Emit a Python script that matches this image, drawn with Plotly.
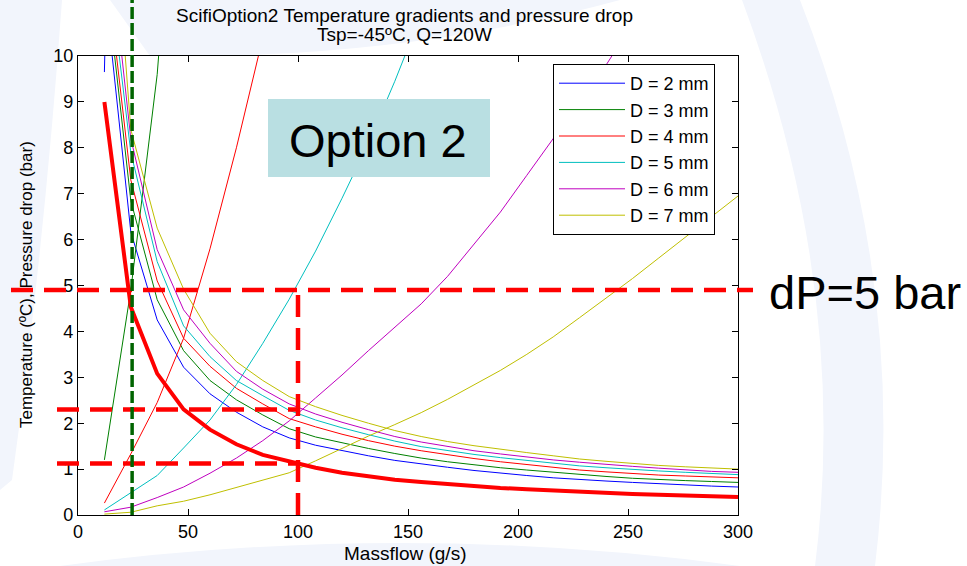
import plotly.graph_objects as go

# ---------------- data ----------------
massflow = [12, 24, 36, 48, 60, 72, 84, 96, 108, 120, 132, 144, 156, 168, 180,
            192, 204, 216, 228, 240, 252, 264, 276, 288, 300]
diameters = ["D = 2 mm", "D = 3 mm", "D = 4 mm", "D = 5 mm", "D = 6 mm", "D = 7 mm"]

# temperature gradients (degC)
temp_d2 = [11.6, 6.17, 4.25, 3.22, 2.64, 2.24, 1.92, 1.68, 1.52, 1.40, 1.29, 1.19, 1.11,
           1.04, 0.97, 0.91, 0.86, 0.81, 0.77, 0.74, 0.71, 0.68, 0.65, 0.63, 0.61]
temp_d3 = [12.0, 6.85, 4.69, 3.58, 2.93, 2.51, 2.18, 1.88, 1.70, 1.57, 1.45, 1.34, 1.24,
           1.16, 1.09, 1.03, 0.98, 0.93, 0.88, 0.84, 0.80, 0.77, 0.75, 0.73, 0.71]
temp_d4 = [12.3, 7.3, 5.10, 3.85, 3.24, 2.76, 2.42, 2.10, 1.92, 1.76, 1.62, 1.50, 1.40,
           1.31, 1.23, 1.16, 1.10, 1.04, 0.98, 0.94, 0.90, 0.87, 0.85, 0.83, 0.81]
temp_d5 = [12.7, 7.9, 5.52, 4.12, 3.45, 2.93, 2.60, 2.28, 2.07, 1.90, 1.75, 1.61, 1.49,
           1.40, 1.32, 1.25, 1.19, 1.13, 1.07, 1.03, 0.99, 0.96, 0.93, 0.90, 0.88]
temp_d6 = [13.5, 8.2, 5.78, 4.47, 3.74, 3.13, 2.74, 2.42, 2.20, 2.02, 1.86, 1.71, 1.59,
           1.49, 1.40, 1.33, 1.26, 1.20, 1.15, 1.10, 1.06, 1.02, 0.98, 0.95, 0.93]
temp_d7 = [16.0, 8.4, 6.25, 4.92, 3.96, 3.34, 2.93, 2.58, 2.36, 2.17, 2.00, 1.84, 1.71,
           1.60, 1.51, 1.43, 1.36, 1.29, 1.22, 1.17, 1.12, 1.08, 1.05, 1.02, 1.00]

# pressure drop (bar) - listed until the curve leaves the chart
dp_d2 = [9.65, 35.0]
dp_d3 = [1.2, 4.9, 9.6, 17.0]
dp_d4 = [0.26, 1.33, 2.45, 3.85, 5.8, 8.0, 10.4]
dp_d5 = [0.11, 0.48, 0.86, 1.46, 2.07, 2.84, 3.74, 4.7, 5.75, 6.9, 8.1, 9.45, 10.9]
dp_d6 = [0.07, 0.17, 0.38, 0.61, 0.91, 1.24, 1.62, 2.05, 2.55, 3.05, 3.58, 4.08, 4.6,
         5.2, 5.9, 6.6, 7.4, 8.2, 9.0, 9.8, 10.7]
dp_d7 = [0.02, 0.06, 0.2, 0.3, 0.44, 0.6, 0.75, 0.92, 1.18, 1.45, 1.72, 1.97, 2.23,
         2.52, 2.83, 3.15, 3.5, 3.88, 4.3, 4.72, 5.15, 5.6, 6.05, 6.5, 6.95]

# highlighted option-2 temperature curve (thick red)
option2_temp = [9.0, 4.53, 3.08, 2.30, 1.86, 1.54, 1.31, 1.16, 1.03, 0.92, 0.84, 0.77, 0.72,
                0.67, 0.63, 0.59, 0.56, 0.53, 0.51, 0.48, 0.46, 0.44, 0.42, 0.40, 0.39]

# reference markers drawn on the slide
dp_limit = 4.9          # dP = 5 bar line
chosen_flow = 100       # g/s
chosen_temp_hi = 2.3
chosen_temp_lo = 1.12
min_flow = 24.6

x_ticks = [0, 50, 100, 150, 200, 250, 300]
y_ticks = [0, 1, 2, 3, 4, 5, 6, 7, 8, 9, 10]

# ---------------- styling ----------------
colors = ["#0000FF", "#008000", "#FF0000", "#00BFBF", "#BF00BF", "#BFBF00"]
temps = [temp_d2, temp_d3, temp_d4, temp_d5, temp_d6, temp_d7]
dps = [dp_d2, dp_d3, dp_d4, dp_d5, dp_d6, dp_d7]

FONT = "Liberation Sans"
W, H = 967, 566
L, R, T, B = 78, 229, 56, 51
PW, PH = W - L - R, H - T - B


def px(xp):
    return (xp - L) / PW


def py(yp):
    return (H - B - yp) / PH


def pth(points):
    # pixel polygon -> paper-space svg path
    out = []
    for cmd, pts in points:
        coords = " ".join(f"{px(a):.4f},{py(b):.4f}" for a, b in pts)
        out.append(f"{cmd}{coords}")
    return " ".join(out) + " Z"


fig = go.Figure()

for i, name in enumerate(diameters):
    fig.add_trace(go.Scatter(x=massflow, y=temps[i], mode="lines", name=name,
                             legendgroup=name, line=dict(color=colors[i], width=1)))
    fig.add_trace(go.Scatter(x=massflow[:len(dps[i])], y=dps[i], mode="lines", name=name,
                             legendgroup=name, showlegend=False,
                             line=dict(color=colors[i], width=1)))

fig.add_trace(go.Scatter(x=massflow, y=option2_temp, mode="lines", showlegend=False,
                         line=dict(color="#FF0000", width=4)))

shapes = []
# faint slide watermark
wm = "#F2F5FC"
shapes.append(dict(type="path", xref="paper", yref="paper", layer="below", fillcolor=wm,
                   line=dict(width=0),
                   path=pth([("M", [(0, 0)]), ("L", [(62, 0)]), ("Q", [(44, 250), (12, 480)]),
                             ("L", [(0, 490)])])))
shapes.append(dict(type="path", xref="paper", yref="paper", layer="below", fillcolor=wm,
                   line=dict(width=0),
                   path=pth([("M", [(742, 0)]), ("L", [(800, 0)]), ("Q", [(910, 280), (875, 566)]),
                             ("L", [(815, 566)]), ("Q", [(850, 290), (742, 0)])])))
shapes.append(dict(type="path", xref="paper", yref="paper", layer="below", fillcolor=wm,
                   line=dict(width=0),
                   path=pth([("M", [(60, 566)]), ("Q", [(400, 520), (740, 566)])])))
shapes.append(dict(type="path", xref="paper", yref="paper", layer="below", fillcolor=wm,
                   line=dict(width=0),
                   path=pth([("M", [(110, 0)]), ("L", [(620, 0)]), ("Q", [(400, 60), (150, 56)])])))
# plot area stays white
shapes.append(dict(type="rect", xref="paper", yref="paper", layer="below", x0=0, x1=1, y0=0,
                   y1=1, fillcolor="white", line=dict(width=0)))

red_dash = dict(color="#FF0000", width=4.5, dash="22px,11px")
# dP = 5 bar horizontal
shapes.append(dict(type="line", xref="paper", yref="paper", x0=px(11), x1=px(753),
                   y0=dp_limit / 10, y1=dp_limit / 10, line=red_dash, layer="above"))
# vertical at chosen flow
shapes.append(dict(type="line", xref="paper", yref="paper", x0=chosen_flow / 300,
                   x1=chosen_flow / 300, y0=0, y1=dp_limit / 10, line=red_dash, layer="above"))
for tv in (chosen_temp_hi, chosen_temp_lo):
    shapes.append(dict(type="line", xref="paper", yref="paper", x0=px(57), x1=chosen_flow / 300,
                       y0=tv / 10, y1=tv / 10, line=red_dash, layer="above"))
# green vertical at minimum flow
shapes.append(dict(type="line", xref="paper", yref="paper", x0=min_flow / 300, x1=min_flow / 300,
                   y0=0, y1=py(0), line=dict(color="#006400", width=3.5, dash="12px,4px"),
                   layer="above"))
# Option 2 box
shapes.append(dict(type="rect", xref="paper", yref="paper", x0=px(268), x1=px(490),
                   y0=py(177), y1=py(99), fillcolor="#B9DFE2", line=dict(width=0),
                   layer="above"))

annotations = [
    dict(text="ScifiOption2 Temperature gradients and pressure drop", x=px(404), y=py(15),
         xref="paper", yref="paper", showarrow=False, xanchor="center", yanchor="middle",
         font=dict(size=19)),
    dict(text="Tsp=-45ºC, Q=120W", x=px(404), y=py(35), xref="paper", yref="paper",
         showarrow=False, xanchor="center", yanchor="middle", font=dict(size=19)),
    dict(text="Massflow (g/s)", x=px(405), y=py(553), xref="paper", yref="paper",
         showarrow=False, xanchor="center", yanchor="middle", font=dict(size=19)),
    dict(text="Temperature (ºC), Pressure drop (bar)", x=px(26), y=py(285), xref="paper",
         yref="paper", showarrow=False, textangle=-90, xanchor="center", yanchor="middle",
         font=dict(size=17)),
    dict(text="Option 2", x=px(378), y=py(140), xref="paper", yref="paper", showarrow=False,
         xanchor="center", yanchor="middle", font=dict(size=47)),
    dict(text="dP=5 bar", x=px(767), y=py(292), xref="paper", yref="paper", showarrow=False,
         xanchor="left", yanchor="middle", font=dict(size=47)),
]

axis_common = dict(showline=True, linecolor="black", linewidth=1.3, mirror="ticks",
                   ticks="inside", ticklen=6, tickcolor="black", showgrid=False,
                   zeroline=False, tickfont=dict(size=18))

fig.update_layout(
    width=W, height=H,
    margin=dict(l=L, r=R, t=T, b=B, pad=0),
    paper_bgcolor="white", plot_bgcolor="white",
    font=dict(family=FONT, size=18, color="black"),
    xaxis=dict(range=[0, 300], tickvals=x_ticks, **axis_common),
    yaxis=dict(range=[0, 10], tickvals=y_ticks, **axis_common),
    legend=dict(x=px(553), y=py(64), xanchor="left", yanchor="top", bgcolor="white",
                bordercolor="black", borderwidth=1, font=dict(size=18), tracegroupgap=0,
                itemwidth=66, entrywidth=168, entrywidthmode="pixels"),
    shapes=shapes, annotations=annotations,
)

fig.write_html("out.html")
